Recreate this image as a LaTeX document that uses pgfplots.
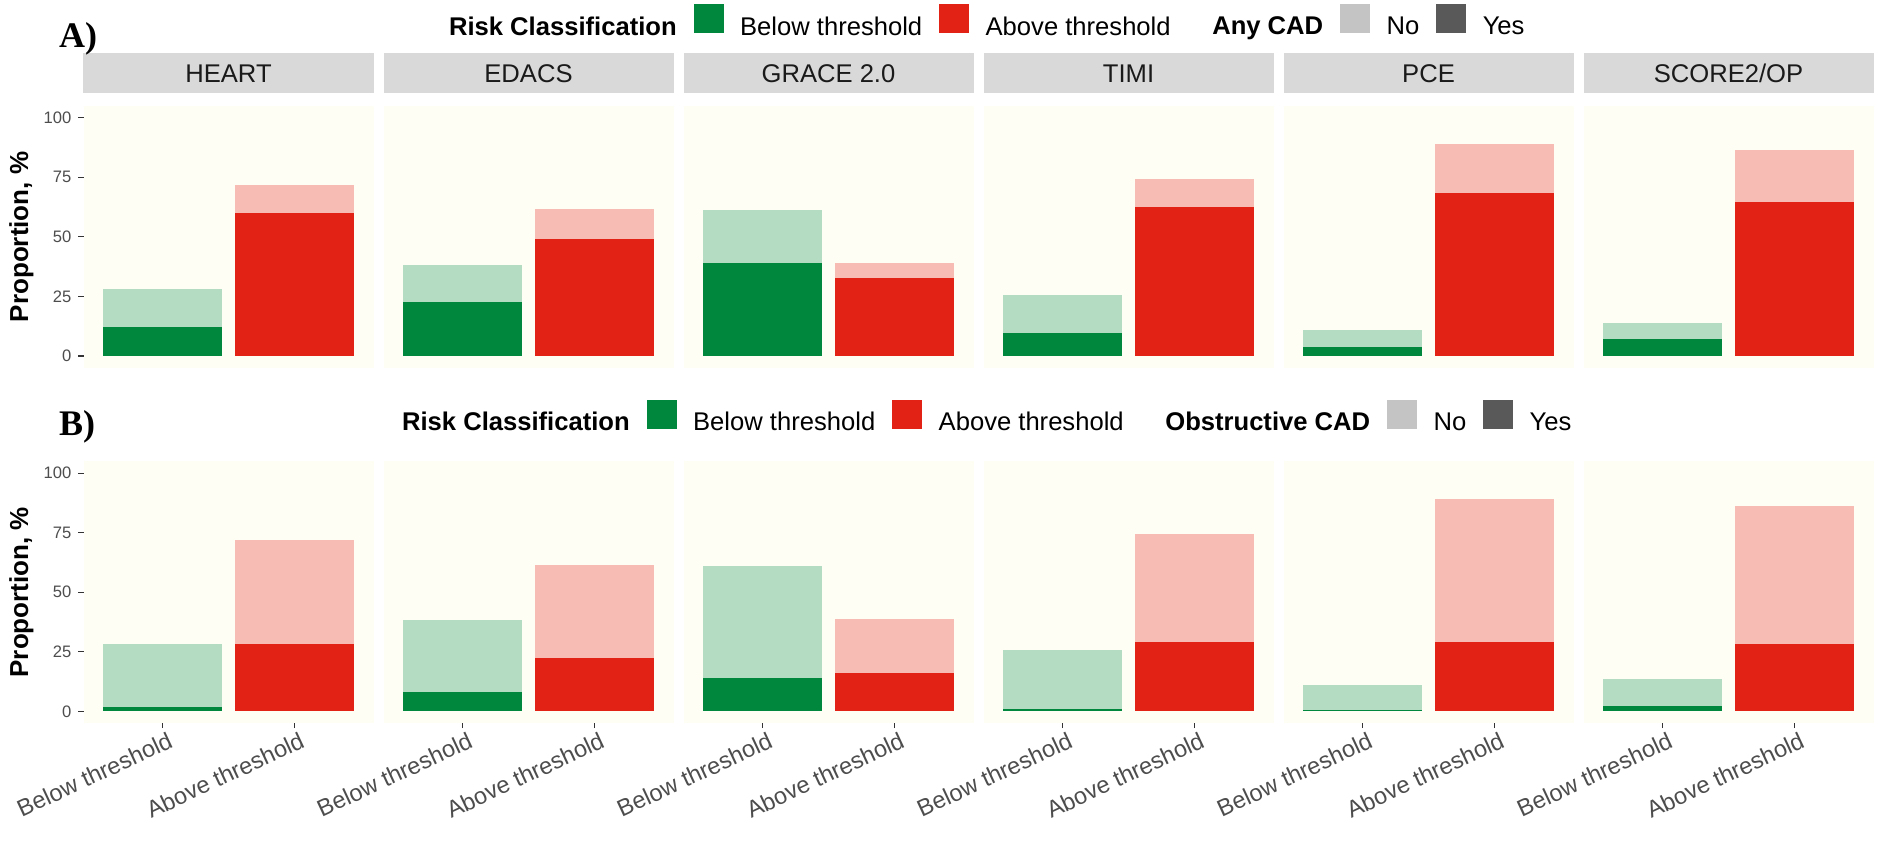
\documentclass[border=0pt]{standalone}
\usepackage{pgfplots}
\pgfplotsset{compat=1.18}
\usepackage{fontspec}
\setmainfont{Liberation Sans}
\newfontfamily\tnr{Liberation Serif}
\definecolor{dgreen}{RGB}{0,135,62}
\definecolor{lgreen}{RGB}{179,220,195}
\definecolor{dred}{RGB}{227,34,22}
\definecolor{lred}{RGB}{247,188,180}
\definecolor{panelbg}{RGB}{255,254,244}
\definecolor{stripgray}{RGB}{217,217,217}
\definecolor{txtgray}{RGB}{77,77,77}
\definecolor{tickgray}{RGB}{51,51,51}
\definecolor{striptxt}{RGB}{26,26,26}
\definecolor{keyno}{RGB}{196,196,196}
\definecolor{keyyes}{RGB}{89,89,89}
\pgfplotsset{
  facet/.style={scale only axis, width=145pt, height=131pt, anchor=south west,
    xmin=0.4, xmax=2.6, ymin=-5, ymax=105, ybar, bar width=0.9,
    axis background/.style={fill=panelbg}, axis line style={draw=none},
    xtick=\empty, ytick=\empty, tick align=outside, major tick length=2.5pt,
    tick style={draw=tickgray, line width=0.55pt}, xtick pos=bottom, ytick pos=left,
    /pgf/number format/assume math mode=true,
    yticklabel style={font=\fontsize{8.3}{10}\selectfont, text=txtgray},
    xticklabel style={font=\fontsize{11.8}{13}\selectfont, text=txtgray, rotate=25, anchor=north east, inner sep=0pt, yshift=-2pt, xshift=1.5pt},
    title style={at={(0.5,1)}, anchor=south, yshift=0.4pt, fill=stripgray, minimum width=145pt, minimum height=19.9pt, inner sep=0pt, text height=9.2pt, text depth=0pt, font=\fontsize{12.8}{14}\selectfont, text=striptxt},
  },
  firstcol/.style={ytick={0,25,50,75,100}, ylabel={Proportion, \%},
    every axis y label/.style={at={(axis description cs:-0.2138,0.5)}, rotate=90, anchor=center, inner sep=0pt, font=\fontsize{13}{15}\selectfont\bfseries}},
  bottomrow/.style={xtick={1,2}, xticklabels={Below threshold, Above threshold}},
  bars/.style={draw=none, bar shift=0pt, forget plot},
  leg/.style={legend columns=-1, legend style={draw=none, fill=none, inner sep=0pt, at={(3.0862,#1)}, anchor=center, font=\fontsize{12.8}{14}\selectfont, nodes={inner sep=0pt}, /tikz/every odd column/.style={column sep=8.3pt}, /tikz/every even column/.style={column sep=8.5pt}}},
  keyg/.style={legend image code/.code={\fill[dgreen] (0pt,-2.6pt) rectangle (14.5pt,11.4pt);}},
  keyr/.style={legend image code/.code={\fill[dred] (0pt,-2.6pt) rectangle (14.5pt,11.4pt);}},
  keyn/.style={legend image code/.code={\fill[keyno] (0pt,-2.6pt) rectangle (14.5pt,11.4pt);}},
  keyy/.style={legend image code/.code={\fill[keyyes] (0pt,-2.6pt) rectangle (14.5pt,11.4pt);}},
}
\begin{document}
\begin{tikzpicture}
\path[use as bounding box] (0,0) rectangle (939pt,432pt);
% ---------- Row A: Any CAD ----------
\begin{axis}[facet, firstcol, leg=1.3229, at={(41.75pt,248.05pt)}, title={HEART}]
\addplot[bars, fill=lgreen] coordinates {(1,28.1)};
\addplot[bars, fill=dgreen] coordinates {(1,12.0)};
\addplot[bars, fill=lred] coordinates {(2,71.9)};
\addplot[bars, fill=dred] coordinates {(2,60.0)};
\addlegendimage{empty legend}\addlegendentry{\textbf{Risk Classification}}
\addlegendimage{keyg}\addlegendentry{Below threshold}
\addlegendimage{keyr}\addlegendentry{Above threshold}
\addlegendimage{empty legend}\addlegendentry{\hspace{4pt}\textbf{Any CAD}}
\addlegendimage{keyn}\addlegendentry{No}
\addlegendimage{keyy}\addlegendentry{Yes}
\end{axis}
\begin{axis}[facet, at={(191.75pt,248.05pt)}, title={EDACS}]
\addplot[bars, fill=lgreen] coordinates {(1,38.4)};
\addplot[bars, fill=dgreen] coordinates {(1,22.8)};
\addplot[bars, fill=lred] coordinates {(2,61.6)};
\addplot[bars, fill=dred] coordinates {(2,49.2)};
\end{axis}
\begin{axis}[facet, at={(341.75pt,248.05pt)}, title={GRACE 2.0}]
\addplot[bars, fill=lgreen] coordinates {(1,61.1)};
\addplot[bars, fill=dgreen] coordinates {(1,39.0)};
\addplot[bars, fill=lred] coordinates {(2,38.9)};
\addplot[bars, fill=dred] coordinates {(2,32.9)};
\end{axis}
\begin{axis}[facet, at={(491.75pt,248.05pt)}, title={TIMI}]
\addplot[bars, fill=lgreen] coordinates {(1,25.7)};
\addplot[bars, fill=dgreen] coordinates {(1,9.5)};
\addplot[bars, fill=lred] coordinates {(2,74.3)};
\addplot[bars, fill=dred] coordinates {(2,62.4)};
\end{axis}
\begin{axis}[facet, at={(641.75pt,248.05pt)}, title={PCE}]
\addplot[bars, fill=lgreen] coordinates {(1,10.9)};
\addplot[bars, fill=dgreen] coordinates {(1,3.6)};
\addplot[bars, fill=lred] coordinates {(2,89.1)};
\addplot[bars, fill=dred] coordinates {(2,68.4)};
\end{axis}
\begin{axis}[facet, at={(791.75pt,248.05pt)}, title={SCORE2/OP}]
\addplot[bars, fill=lgreen] coordinates {(1,13.7)};
\addplot[bars, fill=dgreen] coordinates {(1,7.3)};
\addplot[bars, fill=lred] coordinates {(2,86.3)};
\addplot[bars, fill=dred] coordinates {(2,64.6)};
\end{axis}
% ---------- Row B: Obstructive CAD ----------
\begin{axis}[facet, firstcol, bottomrow, leg=1.1698, at={(41.75pt,70.4pt)}]
\addplot[bars, fill=lgreen] coordinates {(1,28.1)};
\addplot[bars, fill=dgreen] coordinates {(1,1.8)};
\addplot[bars, fill=lred] coordinates {(2,71.9)};
\addplot[bars, fill=dred] coordinates {(2,28.2)};
\addlegendimage{empty legend}\addlegendentry{\textbf{Risk Classification}}
\addlegendimage{keyg}\addlegendentry{Below threshold}
\addlegendimage{keyr}\addlegendentry{Above threshold}
\addlegendimage{empty legend}\addlegendentry{\hspace{4pt}\textbf{Obstructive CAD}}
\addlegendimage{keyn}\addlegendentry{No}
\addlegendimage{keyy}\addlegendentry{Yes}
\end{axis}
\begin{axis}[facet, bottomrow, at={(191.75pt,70.4pt)}]
\addplot[bars, fill=lgreen] coordinates {(1,38.4)};
\addplot[bars, fill=dgreen] coordinates {(1,8.0)};
\addplot[bars, fill=lred] coordinates {(2,61.6)};
\addplot[bars, fill=dred] coordinates {(2,22.3)};
\end{axis}
\begin{axis}[facet, bottomrow, at={(341.75pt,70.4pt)}]
\addplot[bars, fill=lgreen] coordinates {(1,61.1)};
\addplot[bars, fill=dgreen] coordinates {(1,13.9)};
\addplot[bars, fill=lred] coordinates {(2,38.9)};
\addplot[bars, fill=dred] coordinates {(2,16.2)};
\end{axis}
\begin{axis}[facet, bottomrow, at={(491.75pt,70.4pt)}]
\addplot[bars, fill=lgreen] coordinates {(1,25.7)};
\addplot[bars, fill=dgreen] coordinates {(1,1.1)};
\addplot[bars, fill=lred] coordinates {(2,74.3)};
\addplot[bars, fill=dred] coordinates {(2,28.9)};
\end{axis}
\begin{axis}[facet, bottomrow, at={(641.75pt,70.4pt)}]
\addplot[bars, fill=lgreen] coordinates {(1,10.9)};
\addplot[bars, fill=dgreen] coordinates {(1,0.7)};
\addplot[bars, fill=lred] coordinates {(2,89.1)};
\addplot[bars, fill=dred] coordinates {(2,29.3)};
\end{axis}
\begin{axis}[facet, bottomrow, at={(791.75pt,70.4pt)}]
\addplot[bars, fill=lgreen] coordinates {(1,13.7)};
\addplot[bars, fill=dgreen] coordinates {(1,2.1)};
\addplot[bars, fill=lred] coordinates {(2,86.3)};
\addplot[bars, fill=dred] coordinates {(2,28.3)};
\end{axis}
\node[font=\tnr\bfseries\fontsize{18}{18}\selectfont] at (39pt,412.5pt) {A)};
\node[font=\tnr\bfseries\fontsize{18}{18}\selectfont] at (38.5pt,218.5pt) {B)};
\end{tikzpicture}
\end{document}
